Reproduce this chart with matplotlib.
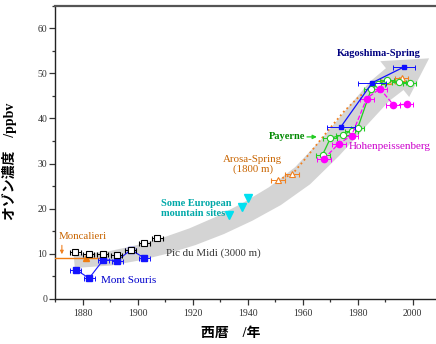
import numpy as np
import matplotlib
matplotlib.use("Agg")
import matplotlib.pyplot as plt
from matplotlib.patches import Polygon
from matplotlib.ticker import MultipleLocator

plt.rcParams["font.family"] = ["Liberation Serif", "Noto Sans CJK JP"]

# Pic du Midi (3000 m)
pic_year = [1877.4, 1882.2, 1887.4, 1892.4, 1897.6, 1902.4, 1907.2]
pic_ppb = [10.5, 10.0, 10.05, 9.75, 10.9, 12.3, 13.4]

# Mont Souris
ms_year = [1877.6, 1882.4, 1887.6, 1892.6, 1897.6, 1902.4]
ms_ppb = [6.5, 4.6, 8.7, 8.5, 10.9, 9.1]

# Moncalieri
mon_year = [1881.2]
mon_ppb = [9.0]

# Some European mountain sites
eu_year = [1933.2, 1938.0, 1940.2]
eu_ppb = [18.5, 20.3, 22.3]

# Arosa-Spring (1800 m)
arosa_year = [1951.0, 1956.2, 1960.5, 1965.4, 1970.2, 1975.0, 1980.0,
              1985.0, 1988.0, 1991.0, 1996.0]
arosa_ppb = [26.4, 27.6, 30.7, 34.4, 38.0, 41.5, 44.5, 47.0, 47.8, 48.3, 49.0]
arosa_mk_year = [1951.0, 1956.2, 1991.0, 1996.0]
arosa_mk_ppb = [26.4, 27.6, 48.3, 49.0]

# Payerne
pay_year = [1967.3, 1970.1, 1974.8, 1977.8, 1980.0, 1984.9, 1987.4,
            1990.8, 1995.0, 1998.9]
pay_ppb = [32.0, 35.6, 36.4, 37.3, 37.8, 46.4, 47.6, 48.5, 48.1, 47.8]

# Hohenpeissenberg
hoh_year = [1967.8, 1973.2, 1977.8, 1983.3, 1988.1, 1993.0, 1997.8]
hoh_ppb = [31.1, 34.4, 36.2, 44.4, 46.6, 43.0, 43.1]

# Kagoshima-Spring
kag_year = [1973.9, 1985.3, 1996.9]
kag_ppb = [38.1, 47.9, 51.4]
kag_err = [5.0, 5.0, 4.0]

# gray trend arrow (center line) and its tip
trend_year = [1877, 1890, 1900, 1910, 1920, 1930, 1940, 1950, 1960,
              1970, 1980, 1988, 1993.5]
trend_ppb = [8.3, 9.0, 10.2, 11.8, 13.8, 16.3, 19.3, 22.8, 27.3,
             33.5, 40.5, 46.0, 48.7]
tip_year, tip_ppb = 2006.0, 53.3

fig = plt.figure(figsize=(4.36, 3.44), dpi=100)
ax = fig.add_axes([55 / 436, 45 / 344, 381 / 436, 293.5 / 344])
ax.set_xlim(1870, 2008.5)
ax.set_ylim(0, 65)

# trend band as polygon built in pixel space, widening toward the head
pts = ax.transData.transform(np.column_stack([trend_year, trend_ppb]))
d = np.gradient(pts, axis=0)
d /= np.linalg.norm(d, axis=1)[:, None]
nrm = np.column_stack([-d[:, 1], d[:, 0]])
seg = np.r_[0, np.cumsum(np.linalg.norm(np.diff(pts, axis=0), axis=1))]
t = seg / seg[-1]
w = (13 + 15 * t) / 2
side_a = pts + nrm * w[:, None]
side_b = pts - nrm * w[:, None]
head_half = 23
corner_a = pts[-1] + nrm[-1] * head_half
corner_b = pts[-1] - nrm[-1] * head_half
tip = ax.transData.transform([tip_year, tip_ppb])
poly = np.vstack([side_a, corner_a, tip, corner_b, side_b[::-1]])
poly = ax.transData.inverted().transform(poly)
ax.add_patch(Polygon(poly, closed=True, facecolor="#d4d4d4",
                     edgecolor="none", zorder=0))

eb = dict(capsize=1.8, elinewidth=0.7, capthick=0.7)

ax.errorbar(mon_year, mon_ppb, xerr=[[14], [5.6]], fmt="^", color="#f07d10",
            ms=5, elinewidth=1.0, capsize=0, zorder=3)

ax.errorbar(ms_year, ms_ppb, xerr=2.0, fmt="s-", color="#1414ff", ms=5,
            lw=0.8, zorder=3, **eb)
ax.errorbar(pic_year, pic_ppb, xerr=2.0, fmt="s", color="black", mfc="white",
            ms=4, mew=0.8, zorder=4, **eb)

ax.plot(eu_year, eu_ppb, "v", color="#00e0f0", ms=5.5, zorder=3)

ax.plot(arosa_year, arosa_ppb, ":", color="#f08020", lw=1.3, zorder=3)
ax.errorbar(arosa_mk_year, arosa_mk_ppb, xerr=2.5, fmt="^", color="#f08020",
            mfc="white", ms=4.5, mew=0.8, zorder=4, **eb)

ax.errorbar(pay_year, pay_ppb, xerr=2.5, fmt="o-", color="#22cc22",
            mfc="white", ms=4.5, mew=0.8, lw=0.9, zorder=4, **eb)

ax.errorbar(hoh_year, hoh_ppb, xerr=2.5, fmt="o--", color="#ff00ff",
            ms=4.5, lw=0.9, zorder=4, **eb)

ax.errorbar(kag_year, kag_ppb, xerr=kag_err, fmt="s-", color="#1010ff",
            ms=3.5, lw=0.9, zorder=5, **eb)

fs = 7.8
ax.text(1972.4, 54.4, "Kagoshima-Spring", color="#000080", fontsize=7.5,
        fontweight="bold", va="center")
ax.text(1947.7, 35.9, "Payerne", color="#008800", fontsize=7.5,
        fontweight="bold", va="center")
ax.annotate("", xy=(1966.2, 35.9), xytext=(1960.6, 35.9),
            arrowprops=dict(arrowstyle="-|>", color="#22cc22", lw=0.9,
                            mutation_scale=6))
ax.text(1976.8, 33.8, "Hohenpeissenberg", color="#cc00cc", fontsize=8,
        va="center")
ax.text(1941.9, 29.8, "Arosa-Spring\n(1800 m)", color="#c86400",
        fontsize=fs, ha="center", va="center", linespacing=1.1)
ax.text(1908.4, 20.1, "Some European\nmountain sites", color="#00a8a8",
        fontsize=7.5, fontweight="bold", va="center", linespacing=1.1)
ax.text(1910.3, 10.1, "Pic du Midi (3000 m)", color="#333333", fontsize=fs,
        va="center")
ax.text(1886.6, 4.1, "Mont Souris", color="#0000cc", fontsize=8,
        va="center")
ax.text(1871.4, 13.9, "Moncalieri", color="#c86400", fontsize=fs,
        va="center")
ax.annotate("", xy=(1872.5, 9.3), xytext=(1872.5, 12.5),
            arrowprops=dict(arrowstyle="-|>", color="#f08020", lw=0.8,
                            mutation_scale=5))

ax.xaxis.set_major_locator(MultipleLocator(20))
ax.xaxis.set_minor_locator(MultipleLocator(10))
ax.yaxis.set_major_locator(MultipleLocator(10))
ax.yaxis.set_minor_locator(MultipleLocator(5))
ax.tick_params(which="both", direction="out", colors="#333333",
               labelsize=7, width=0.9)
ax.tick_params(which="major", length=4)
ax.tick_params(which="minor", length=2.5)
ax.tick_params(axis="y", pad=1.5)

ax.spines["right"].set_visible(False)
ax.spines["top"].set_color("#555555")
ax.spines["top"].set_linewidth(1.6)
for s in ["left", "bottom"]:
    ax.spines[s].set_color("#222222")
    ax.spines[s].set_linewidth(1.0)

ax.set_xlabel("西暦　/年", fontsize=10, fontweight="bold")
ax.set_ylabel("オゾン濃度　/ppbv", fontsize=10, fontweight="bold")
ax.xaxis.set_label_coords((231 - 55) / 381, -0.095)
ax.yaxis.set_label_coords(-0.1, (299 - 161) / 293.5)

fig.savefig("out.png", dpi=100)
